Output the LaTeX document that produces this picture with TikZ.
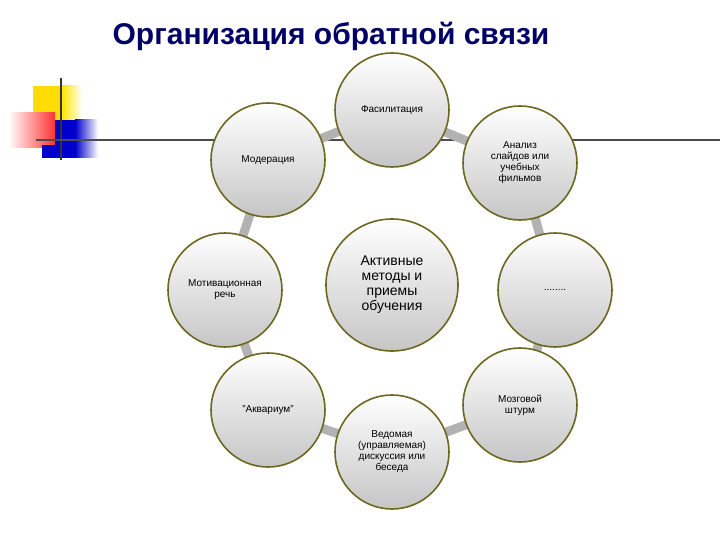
\documentclass[tikz,border=0pt]{standalone}
\usepackage{fontspec}
\setmainfont{Liberation Sans}
\begin{document}
\begin{tikzpicture}[x=1pt,y=-1pt,
  circ/.style={circle,draw=olive!70!black,line width=1.6pt,minimum size=114pt,inner sep=2pt,align=center,
    top color=white,bottom color=gray!45,font=\fontsize{10}{11}\selectfont},
  ring/.style={gray!60,line width=9pt}]
\useasboundingbox (0,0) rectangle (720,540);
% decoration
\fill[yellow!80!orange] (33,86) rectangle (62,120);
\shade[left color=yellow!80!orange,right color=white] (62,86) rectangle (82,120);
\shade[left color=white,right color=red!80] (8,113) rectangle (55,148);
\fill[blue!80!black] (55,120) rectangle (75,158);
\fill[blue!80!black] (42,145) rectangle (60,158);
\shade[left color=blue!80!black,right color=white] (75,120) rectangle (98,158);
\draw[black!80,line width=1.5pt] (61,78) -- (61,160);
\draw[black!70,line width=1.2pt] (36,140) -- (720,140);
\node[font=\bfseries\fontsize{30}{34}\selectfont,text=blue!40!black] (title) at (331,36) {Организация обратной связи};
% nodes
\coordinate (cF) at (392,110);
\coordinate (cA) at (520,163);
\coordinate (cD) at (555,290);
\coordinate (cZ) at (520,405);
\coordinate (cV) at (392,452);
\coordinate (cK) at (268,410);
\coordinate (cM) at (225,290);
\coordinate (cO) at (268,160);
\draw[ring] (cF) -- (cA) -- (cD) -- (cZ) -- (cV) -- (cK) -- (cM) -- (cO) -- cycle;
\node[circ] (F) at (cF) {Фасилитация};
\node[circ] (A) at (cA) {Анализ\\слайдов или\\учебных\\фильмов};
\node[circ] (D) at (cD) {........};
\node[circ] (Z) at (cZ) {Мозговой\\штурм};
\node[circ] (V) at (cV) {Ведомая\\(управляемая)\\дискуссия или\\беседа};
\node[circ] (K) at (cK) {"Аквариум"};
\node[circ] (M) at (cM) {Мотивационная\\речь};
\node[circ] (O) at (cO) {Модерация};
\node[circ,minimum size=132pt,font=\fontsize{14}{15}\selectfont] (C) at (392,285) {Активные\\методы и\\приемы\\обучения};
\end{tikzpicture}
\end{document}
